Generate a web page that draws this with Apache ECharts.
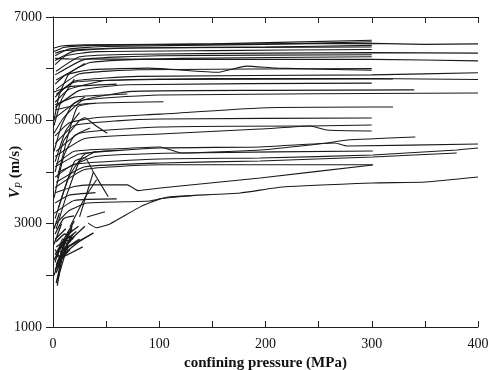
<!DOCTYPE html>
<html>
<head>
<meta charset="utf-8">
<script src="https://cdn.jsdelivr.net/npm/echarts@6/dist/echarts.min.js"></script>
<style>
html, body { margin: 0; background: #fff; }
#mycharts { width: 491px; height: 370px; }
</style>
</head>
<body>
<div id="mycharts"></div>
<script>
var xTickLabels = [0, 100, 200, 300, 400];
var yTickLabels = [1000, 3000, 5000, 7000];

// [confining pressure (MPa), Vp (m/s)]
var upperCurves = [
  [[1, 6400], [8, 6440], [30, 6460], [100, 6470], [200, 6480], [300, 6490], [350, 6470], [400, 6480]],
  [[1, 6330], [10, 6410], [40, 6450], [150, 6480], [300, 6550]],
  [[2, 6250], [15, 6380], [50, 6430], [200, 6470], [300, 6520]],
  [[2, 6160], [20, 6340], [80, 6400], [200, 6420], [300, 6450]],
  [[2, 6300], [10, 6350], [60, 6400], [300, 6420]],
  [[2, 6080], [12, 6250], [40, 6330], [150, 6350], [300, 6370]],
  [[3, 5950], [25, 6230], [80, 6280], [200, 6300], [300, 6310], [400, 6300]],
  [[2, 5880], [30, 6180], [100, 6250], [300, 6270]],
  [[3, 5780], [35, 6120], [120, 6200], [300, 6230]],
  [[2, 6200], [15, 6190], [100, 6180], [300, 6180], [400, 6150]],
  [[2, 5700], [12, 5880], [35, 5980], [90, 6010], [155, 5930], [182, 6050], [211, 6010], [300, 5970]],
  [[3, 5600], [25, 5900], [80, 5980], [300, 6000]]
];

var upperMidCurves = [
  [[2, 5450], [20, 5760], [80, 5850], [300, 5880], [400, 5920]],
  [[2, 5350], [15, 5600], [50, 5770], [150, 5810], [300, 5810], [400, 5790]],
  [[3, 5500], [20, 5740], [100, 5790], [320, 5800]],
  [[2, 5250], [25, 5580], [70, 5690], [300, 5720]],
  [[1, 4750], [10, 5050], [28, 5390], [75, 5560], [200, 5580], [340, 5590]],
  [[2, 5050], [25, 5380], [100, 5490], [400, 5530]],
  [[2, 5200], [30, 5320], [104, 5360]],
  [[2, 5300], [20, 5450], [70, 5510]],
  [[1, 5550], [15, 5650], [60, 5700]]
];

var middleCurves = [
  [[2, 4700], [15, 4950], [40, 5050], [101, 5120], [195, 5240], [300, 5258], [320, 5258]],
  [[2, 4550], [20, 4900], [60, 4990], [101, 5026], [300, 5046]],
  [[3, 4400], [25, 4750], [101, 4870], [242, 4890], [258, 4813], [300, 4794]],
  [[2, 4300], [30, 4650], [101, 4736], [195, 4833], [242, 4890], [300, 4910]],
  [[3, 4150], [20, 4400], [60, 4450], [101, 4485], [121, 4368], [195, 4426], [258, 4562], [277, 4620], [341, 4678]],
  [[2, 4100], [25, 4350], [101, 4465], [195, 4485], [265, 4562], [277, 4504], [400, 4542]],
  [[5, 4000], [40, 4300], [121, 4368], [301, 4407]],
  [[2, 3900], [20, 4150], [101, 4252], [195, 4272], [301, 4330], [380, 4427], [400, 4465]],
  [[3, 3800], [30, 4100], [101, 4175], [195, 4214], [301, 4291], [380, 4368]],
  [[2, 3700], [30, 4050], [101, 4140], [301, 4140]]
];

var lowerCurves = [
  [[2, 3600], [20, 3720], [35, 3750], [70, 3750], [80, 3640], [101, 3690], [195, 3885], [301, 4136]],
  [[3, 3000], [15, 3250], [32, 3400], [91, 3440], [110, 3520], [176, 3594], [216, 3710], [301, 3788], [351, 3807], [400, 3904]],
  [[33, 3010], [41, 2920], [54, 3000], [82, 3325], [101, 3480], [130, 3540]]
];

var steepCurves = [
  [[3, 2900], [12, 3500], [25, 4200], [40, 4400]],
  [[2, 3100], [15, 3900], [30, 4350], [60, 4420]],
  [[4, 3885], [14, 4700], [23, 5260], [40, 5330]],
  [[1, 3500], [10, 4300], [20, 4700], [35, 4850]],
  [[2, 4000], [10, 4600], [25, 5000], [30, 5050], [40, 4900], [51, 4750]],
  [[16, 2940], [30, 3500], [41, 3850]],
  [[25, 3130], [38, 4000]],
  [[5, 3300], [20, 4200], [30, 4280], [38, 4000], [52, 3520]],
  [[1, 3200], [20, 3450], [60, 3480]],
  [[2, 3400], [15, 3550], [40, 3600]],
  [[1, 4400], [8, 4900], [18, 5300], [30, 5450]],
  [[2, 4200], [12, 4800], [25, 5150]],
  [[1, 5000], [6, 5500], [15, 5900], [30, 6100]],
  [[1, 4900], [8, 5400], [20, 5800]],
  [[10, 2500], [38, 2820]],
  [[32, 3130], [49, 3230]]
];

var clusterCurves = [
  [[1, 2000], [12, 2700]],
  [[2, 2100], [15, 2850]],
  [[3, 2200], [18, 2950]],
  [[1, 2300], [10, 2650]],
  [[4, 1900], [14, 2600]],
  [[2, 2400], [20, 3050]],
  [[5, 2250], [16, 2500]],
  [[3, 2550], [22, 2850]],
  [[6, 2450], [25, 2700]],
  [[2, 2700], [12, 2900]],
  [[7, 2350], [23, 2630], [38, 2820]],
  [[1, 2600], [8, 3000]],
  [[3, 1850], [8, 2300]],
  [[2, 2800], [10, 3100], [20, 3150]],
  [[8, 2550], [18, 2900]],
  [[4, 2150], [10, 2500], [20, 2750]],
  [[1, 2900], [6, 3200]],
  [[9, 2350], [28, 2550]],
  [[2, 2500], [6, 2350]],
  [[3, 2050], [11, 2450], [16, 2750]],
  [[5, 2150], [12, 2550], [19, 2800]],
  [[4, 2350], [9, 2700], [17, 2650]],
  [[6, 2300], [13, 2750]],
  [[2, 2250], [7, 2550], [14, 2500]],
  [[5, 1950], [9, 2400], [15, 2550]],
  [[7, 2500], [15, 2800], [24, 2950]],
  [[3, 2650], [11, 2800], [19, 2700]],
  [[4, 1800], [6, 2050]],
  [[12, 2600], [30, 2950]]
];

var serif = "Liberation Serif";
var myCharts = echarts.init(document.getElementById("mycharts"));

var series = [];
[upperCurves, upperMidCurves, middleCurves, lowerCurves, steepCurves, clusterCurves].forEach(function (group) {
  group.forEach(function (pts) {
    series.push({
      type: "line",
      data: pts,
      symbol: "none",
      smooth: 0.15,
      silent: true,
      lineStyle: { color: "#1a1a1a", width: group === clusterCurves ? 1.3 : 1.1 }
    });
  });
});

var lineStyle = { color: "#222", width: 1 };

var option = {
  animation: false,
  grid: { left: 53, right: 13, top: 17, bottom: 43, outerBoundsMode: "none", containLabel: false },
  xAxis: [
    {
      type: "value",
      min: 0,
      max: 400,
      interval: 50,
      position: "bottom",
      axisLine: { lineStyle: lineStyle },
      axisTick: { inside: true, length: 6, lineStyle: lineStyle },
      axisLabel: {
        margin: 10,
        fontFamily: serif,
        fontSize: 14,
        color: "#111",
        formatter: function (v) {
          return xTickLabels.indexOf(v) >= 0 ? v : "";
        }
      },
      splitLine: { show: false },
      name: "confining pressure (MPa)",
      nameLocation: "middle",
      nameGap: 29,
      nameMoveOverlap: false,
      nameTextStyle: { fontFamily: serif, fontWeight: "bold", fontSize: 15, color: "#111" }
    },
    {
      type: "value",
      min: 0,
      max: 400,
      interval: 50,
      position: "top",
      axisLine: { lineStyle: lineStyle },
      axisTick: { inside: true, length: 6, lineStyle: lineStyle },
      axisLabel: { show: false },
      splitLine: { show: false }
    }
  ],
  yAxis: [
    {
      type: "value",
      min: 1000,
      max: 7000,
      interval: 1000,
      position: "left",
      axisLine: { show: true, lineStyle: lineStyle },
      axisTick: { show: false },
      axisLabel: {
        margin: 11,
        fontFamily: serif,
        fontSize: 14,
        color: "#111",
        formatter: function (v) {
          return yTickLabels.indexOf(v) >= 0 ? v : "";
        }
      },
      splitLine: { show: false },
      name: "{v|V}{s|P}{n| (m/s)}",
      nameLocation: "middle",
      nameGap: 29,
      nameMoveOverlap: false,
      nameTextStyle: {
        rich: {
          v: { fontFamily: serif, fontStyle: "italic", fontWeight: "bold", fontSize: 15, color: "#111" },
          s: { fontFamily: serif, fontStyle: "italic", fontSize: 10, color: "#111", padding: [8, 0, 0, 0] },
          n: { fontFamily: serif, fontWeight: "bold", fontSize: 15, color: "#111" }
        }
      }
    },
    {
      type: "value",
      min: 1000,
      max: 7000,
      interval: 1000,
      position: "right",
      axisLine: { show: true, lineStyle: lineStyle },
      axisTick: { inside: true, length: 7, lineStyle: lineStyle },
      axisLabel: { show: false },
      splitLine: { show: false }
    }
  ],
  series: series
};

myCharts.setOption(option);
</script>
</body>
</html>
